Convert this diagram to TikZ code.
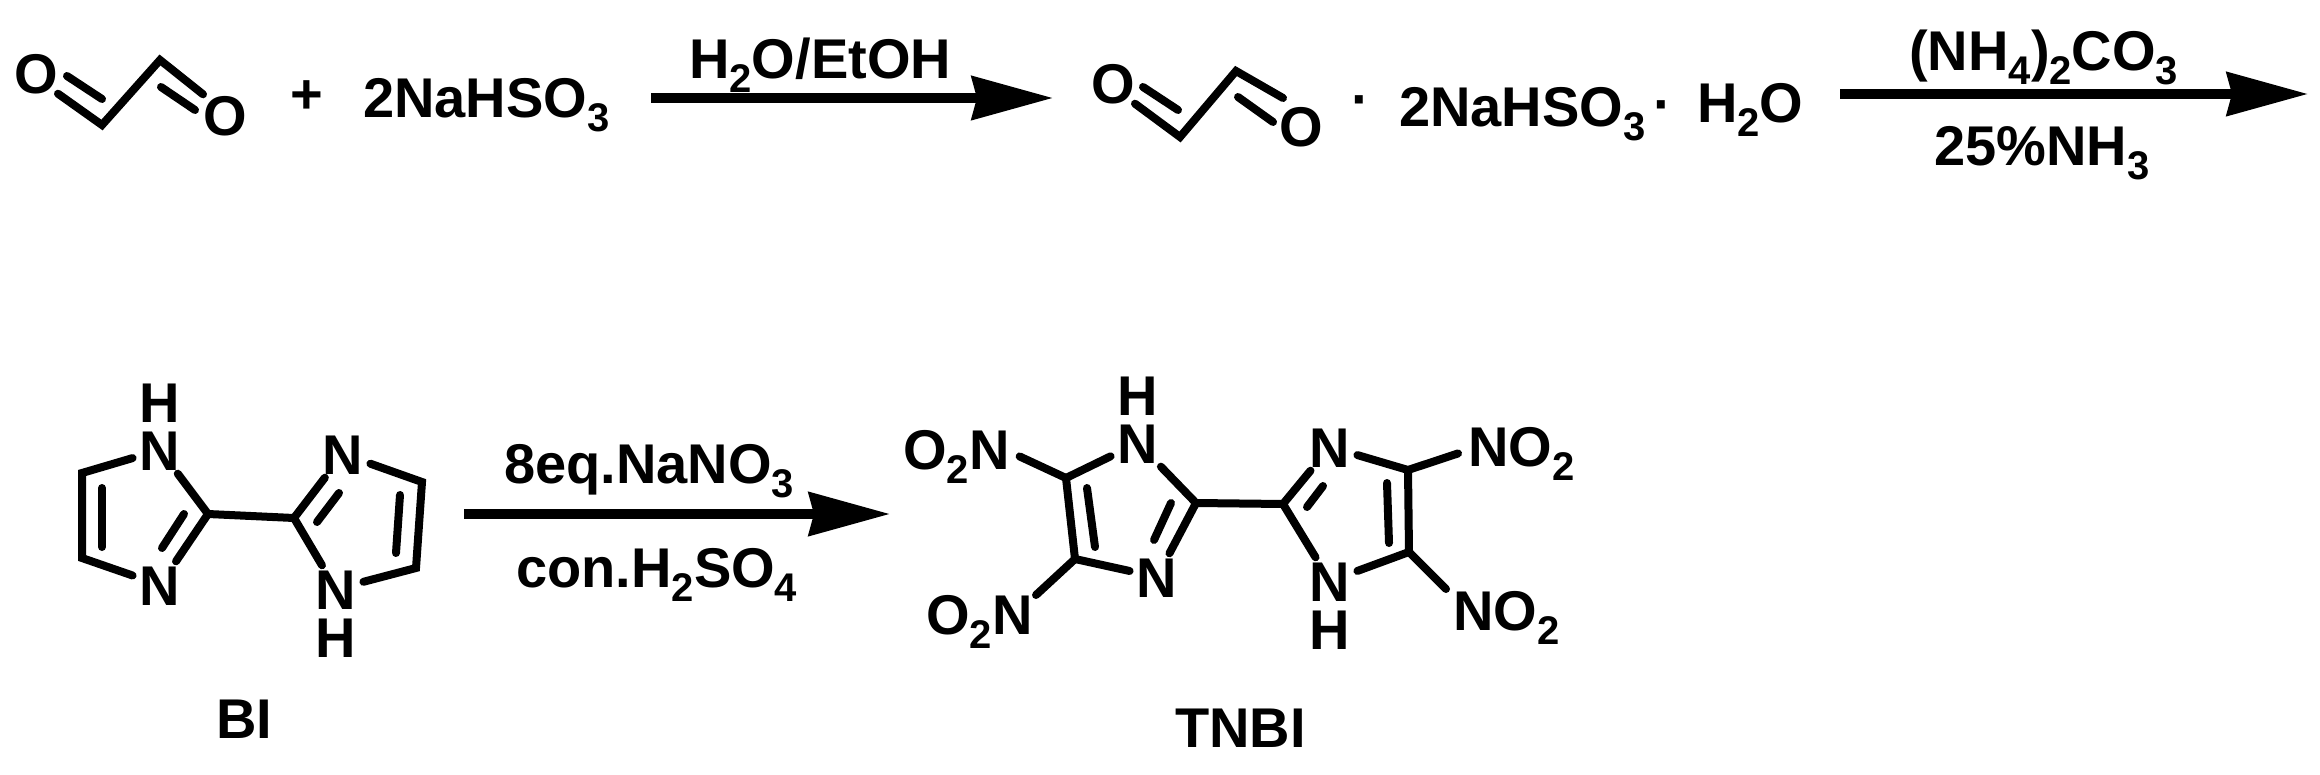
\documentclass[tikz,border=0pt]{standalone}
\usepackage{fontspec}
\setmainfont{Liberation Sans}
\usetikzlibrary{arrows.meta}
\newcommand{\chemsub}[1]{\raisebox{-14pt}{\fontsize{40pt}{40pt}\selectfont #1}}
\tikzset{
label/.style={font=\fontsize{56pt}{60pt}\selectfont\bfseries, inner sep=0pt, anchor=base west},
atom/.style={font=\fontsize{56pt}{60pt}\selectfont\bfseries, inner xsep=7pt, inner ysep=3pt, text height=41pt, text depth=0pt, anchor=center},
oxo/.style={atom, inner xsep=0pt, inner ysep=0pt},
nitro/.style={label, inner sep=10pt},
bond/.style={line width=8pt, line cap=round, line join=miter},
rxn/.style={line width=9.5pt, -{Stealth[length=81pt,width=43pt,inset=5pt]}},
}
\begin{document}
\begin{tikzpicture}[x=1pt,y=-1pt]
\useasboundingbox (0,0) rectangle (2320,775);
% top row
\node[oxo] (o1) at (36,73) {O};
\node[oxo] (o2) at (225,115) {O};
\coordinate (c1) at (102,125);
\coordinate (c2) at (160,60);
\coordinate (i1) at (102,99);
\coordinate (i2) at (67,76);
\coordinate (i3) at (195,110);
\coordinate (i4) at (161,87);
\draw[bond] (o1.south east) -- (c1) -- (c2) -- (o2.north west);
\draw[bond] (i1) -- (i2);
\draw[bond] (i3) -- (i4);
\node[label] (plus) at (290,114) {+};
\node[label] (salt) at (363,118) {2NaHSO\chemsub{3}};
\coordinate (a1s) at (651,98);
\coordinate (a1e) at (1053,98);
\draw[rxn] (a1s) -- (a1e);
\node[label] (solv) at (689,79) {H\chemsub{2}O/EtOH};
\node[oxo] (o3) at (1113,83) {O};
\node[oxo] (o4) at (1301,126) {O};
\coordinate (c3) at (1180,137);
\coordinate (c4) at (1236,71);
\coordinate (c4e) at (1283,98);
\coordinate (i5) at (1178,110);
\coordinate (i6) at (1143,87);
\coordinate (i7) at (1273,122);
\coordinate (i8) at (1238,97);
\draw[bond] (o3.south east) -- (c3) -- (c4) -- (c4e);
\draw[bond] (i5) -- (i6);
\draw[bond] (i7) -- (i8);
\node[label] (dot1) at (1351,119) {·};
\node[label] (salt2) at (1399,127) {2NaHSO\chemsub{3}};
\node[label] (dot2) at (1653,124) {·};
\node[label] (water) at (1697,123) {H\chemsub{2}O};
\coordinate (a2s) at (1840,94);
\coordinate (a2e) at (2308,94);
\draw[rxn] (a2s) -- (a2e);
\node[label] (carb) at (1909,71) {(NH\chemsub{4})\chemsub{2}CO\chemsub{3}};
\node[label] (ammo) at (1934,166) {25\%NH\chemsub{3}};
% BI
\node[atom] (bh1) at (160,402) {H};
\node[atom] (bn1) at (160,450) {N};
\node[atom] (bn2) at (160,585) {N};
\node[atom] (bn3) at (343,454) {N};
\node[atom] (bn4) at (336,589) {N};
\node[atom] (bh2) at (336,637) {H};
\coordinate (b1) at (82,473);
\coordinate (b2) at (82,558);
\coordinate (b3) at (208,514);
\coordinate (b4) at (294,518);
\coordinate (b5) at (422,482);
\coordinate (b6) at (416,568);
\coordinate (b7) at (102,488);
\coordinate (b8) at (102,547);
\coordinate (b9) at (184,514);
\coordinate (b10) at (162,548);
\coordinate (b11) at (339,493);
\coordinate (b12) at (317,522);
\coordinate (b13) at (400,495);
\coordinate (b14) at (396,553);
\draw[bond] (bn1) -- (b1) -- (b2) -- (bn2);
\draw[bond] (bn1) -- (b3) -- (bn2);
\draw[bond] (b3) -- (b4);
\draw[bond] (bn3) -- (b4) -- (bn4);
\draw[bond] (bn3) -- (b5) -- (b6) -- (bn4);
\draw[bond] (b7) -- (b8);
\draw[bond] (b9) -- (b10);
\draw[bond] (b11) -- (b12);
\draw[bond] (b13) -- (b14);
\node[label] (binm) at (216,738) {BI};
\coordinate (a3s) at (464,514);
\coordinate (a3e) at (890,514);
\draw[rxn] (a3s) -- (a3e);
\node[label] (nitr) at (504,483) {8eq.NaNO\chemsub{3}};
\node[label] (acid) at (516,587) {con.H\chemsub{2}SO\chemsub{4}};
% TNBI
\node[atom] (th1) at (1138,395) {H};
\node[atom] (tn1) at (1138,443) {N};
\node[atom] (tn2) at (1157,577) {N};
\node[atom] (tn3) at (1330,447) {N};
\node[atom] (tn4) at (1330,581) {N};
\node[atom] (th2) at (1330,629) {H};
\node[nitro] (no1) at (893,469) {O\chemsub{2}N};
\node[nitro] (no2) at (916,634) {O\chemsub{2}N};
\node[nitro] (no3) at (1458,466) {NO\chemsub{2}};
\node[nitro] (no4) at (1443,630) {NO\chemsub{2}};
\coordinate (t1) at (1066,478);
\coordinate (t2) at (1075,559);
\coordinate (t3) at (1196,503);
\coordinate (t4) at (1283,504);
\coordinate (t5) at (1408,470);
\coordinate (t6) at (1409,552);
\coordinate (e1) at (1036,595);
\coordinate (e2) at (1446,589);
\coordinate (t7) at (1087,488);
\coordinate (t8) at (1095,547);
\coordinate (t9) at (1171,503);
\coordinate (t10) at (1154,540);
\coordinate (t11) at (1323,486);
\coordinate (t12) at (1307,507);
\coordinate (t13) at (1387,483);
\coordinate (t14) at (1389,543);
\draw[bond] (tn1) -- (t1) -- (t2) -- (tn2);
\draw[bond] (tn1) -- (t3) -- (tn2);
\draw[bond] (t3) -- (t4);
\draw[bond] (tn3) -- (t4) -- (tn4);
\draw[bond] (tn3) -- (t5) -- (t6) -- (tn4);
\draw[bond] (t1) -- (no1.east);
\draw[bond] (t2) -- (e1);
\draw[bond] (t5) -- (no3.west);
\draw[bond] (t6) -- (e2);
\draw[bond] (t7) -- (t8);
\draw[bond] (t9) -- (t10);
\draw[bond] (t11) -- (t12);
\draw[bond] (t13) -- (t14);
\node[label] (tnm) at (1175,747) {TNBI};
\end{tikzpicture}
\end{document}
